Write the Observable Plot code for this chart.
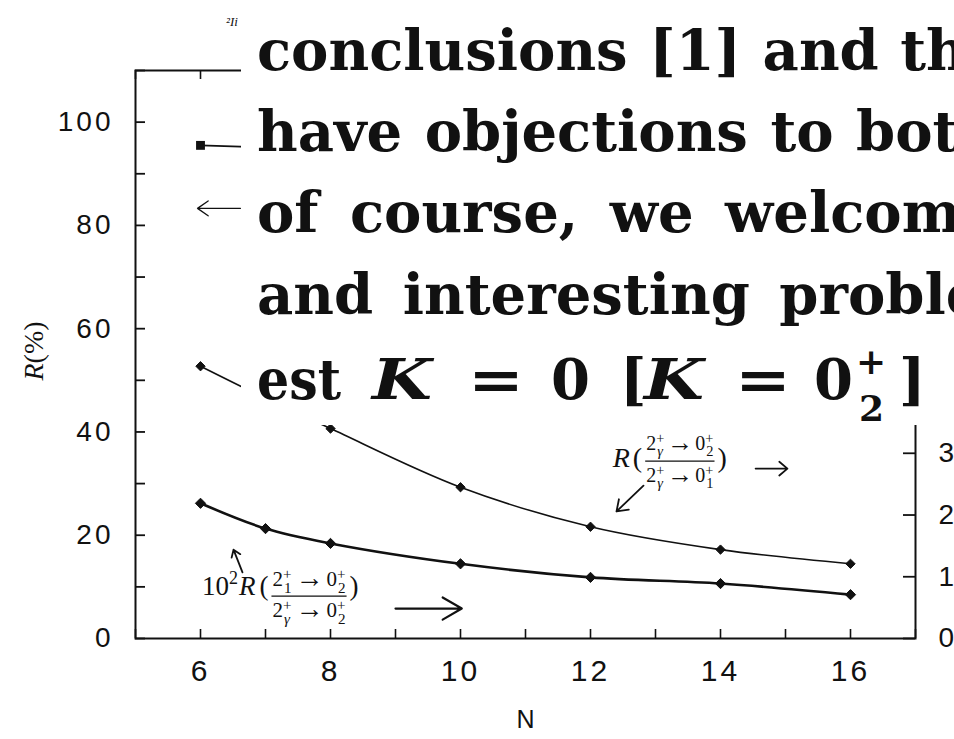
<!DOCTYPE html>
<html><head><meta charset="utf-8">
<script src="https://cdn.jsdelivr.net/npm/d3@7"></script>
<script src="https://cdn.jsdelivr.net/npm/@observablehq/plot@0.6"></script>
<style>
html,body{margin:0;padding:0;background:#fff;overflow:hidden;}
#wrap{position:relative;width:954px;height:739px;overflow:hidden;}
#wrap svg g[aria-label$="tick label"] text{letter-spacing:3px;}
</style></head><body><div id="wrap"></div>
<script>
// ---- data ----
const N = [6, 7, 8, 10, 12, 14, 16];
// right-axis units
const upperR = [4.41, 3.89, 3.40, 2.45, 1.81, 1.44, 1.21];   // R(2γ→0₂ / 2γ→0₁)
const lowerR = [2.19, 1.78, 1.54, 1.21, 0.99, 0.89, 0.71];   // 10² R(2₁→0₂ / 2γ→0₂)
// left-axis units R(%)
const squareN = [6, 7];
const squareR = [95.5, 95.1];
const leftTicks = [0, 20, 40, 60, 80, 100];
const leftMinor = [0, 10, 20, 30, 40, 50, 60, 70, 80, 90, 100, 110];
const rightTicks = [0, 1, 2, 3, 4, 5, 6, 7, 8, 9];
const xTicks = [6, 8, 10, 12, 14, 16];
const xMinor = [5, 6, 7, 8, 9, 10, 11, 12, 13, 14, 15, 16, 17];
const leftMax = 110, rightMax = 9.2;
const k = leftMax / rightMax;

const upper = N.map((n, i) => ({N: n, R: upperR[i]}));
const lower = N.map((n, i) => ({N: n, R: lowerR[i]}));
const squares = squareN.map((n, i) => ({N: n, R: squareR[i]}));

// annotation arrows (data units: N, left-axis R%)
const arrows = [
  {x1: 12.815, y1: 29.6, x2: 12.40, y2: 24.6, hl: 13, ha: 70, sw: 1.8},
  {x1: 14.54, y1: 32.9, x2: 15.03, y2: 32.9, hl: 13, ha: 80, sw: 1.8},
  {x1: 6.646, y1: 12.8, x2: 6.508, y2: 17.2, hl: 12, ha: 70, sw: 1.8},
  {x1: 9.0, y1: 5.8, x2: 10.02, y2: 5.8, hl: 20, ha: 60, sw: 2.2},
  {x1: 6.615, y1: 83.3, x2: 5.954, y2: 83.3, hl: 15, ha: 70, sw: 1.3}
];

const W = 954, H = 739, mL = 135, mR = 39, mT = 70, mB = 101;
const pw = W - mL - mR, ph = H - mT - mB;
const ink = "#111";

const chart = Plot.plot({
  width: W, height: H,
  marginLeft: mL, marginRight: mR, marginTop: mT, marginBottom: mB,
  style: {fontFamily: "Liberation Sans", fontSize: "28px", color: ink, background: "white"},
  x: {domain: [5, 17]},
  y: {domain: [0, leftMax]},
  marks: [
    Plot.axisY(leftTicks, {anchor: "left", tickSize: 0, tickPadding: 22, label: null, fontSize: 28}),
    Plot.axisY(rightTicks.map(t => t * k), {anchor: "right", tickSize: 0, tickPadding: 23, label: null, fontSize: 28,
      tickFormat: d => String(Math.round(d / k))}),
    Plot.axisX(xTicks, {anchor: "bottom", tickSize: 0, tickPadding: 21, label: null, fontSize: 30}),
    Plot.tickY(leftMinor, {y: d => d, insetRight: pw - 10, stroke: ink, strokeWidth: 1.8}),
    Plot.tickY(rightTicks.map(t => t * k), {y: d => d, insetLeft: pw - 12, stroke: ink, strokeWidth: 1.8}),
    Plot.tickX(xMinor, {x: d => d, insetTop: ph - 9, stroke: ink, strokeWidth: 1.6}),
    Plot.tickX(xMinor, {x: d => d, insetBottom: ph - 9, stroke: ink, strokeWidth: 1.6}),
    Plot.frame({stroke: ink, strokeWidth: 2}),
    Plot.line(upper, {x: "N", y: d => d.R * k, stroke: ink, strokeWidth: 1.6, curve: "catmull-rom"}),
    Plot.line(lower, {x: "N", y: d => d.R * k, stroke: ink, strokeWidth: 2.6, curve: "catmull-rom"}),
    Plot.line(squares, {x: "N", y: "R", stroke: ink, strokeWidth: 1.6}),
    Plot.dot(upper, {x: "N", y: d => d.R * k, symbol: "diamond2", r: 4.2, fill: ink, stroke: ink, strokeWidth: 1}),
    Plot.dot(lower, {x: "N", y: d => d.R * k, symbol: "diamond2", r: 4.6, fill: ink, stroke: ink, strokeWidth: 1}),
    Plot.dot(squares, {x: "N", y: "R", symbol: "square", r: 5, fill: ink}),
    ...arrows.map(a => Plot.arrow([a], {x1: "x1", y1: "y1", x2: "x2", y2: "y2", stroke: ink,
      strokeWidth: a.sw, headLength: a.hl, headAngle: a.ha})),
    Plot.text(["N"], {frameAnchor: "bottom", dy: 89, fontSize: 25, fill: ink})
  ]
});
document.getElementById("wrap").appendChild(chart);

const svg = d3.select(chart);
const sx = chart.scale("x"), sy = chart.scale("y");

function piece(g, x, y, str, o) {
  const t = g.append("text").attr("x", x).attr("y", y).text(str)
    .attr("text-anchor", "start")
    .attr("font-family", o.family || "Liberation Serif")
    .attr("font-size", o.size)
    .attr("font-style", o.italic ? "italic" : null)
    .attr("font-weight", o.bold ? "bold" : "normal")
    .attr("fill", ink);
  if (o.ws) t.attr("word-spacing", o.ws);
  if (o.len) t.attr("textLength", o.len).attr("lengthAdjust", "spacingAndGlyphs");
  return o.len || t.node().getComputedTextLength();
}
function row(g, x, y, tokens, size, family) {
  let cx = x;
  for (const tk of tokens) {
    cx += tk.pl || 0;
    if (tk.t != null) cx += piece(g, cx, y + (tk.dy || 0), tk.t, {size: tk.size || size, italic: tk.it, bold: tk.bold, family});
    else {
      const ss = size * 0.72;
      const w1 = tk.sup ? piece(g, cx, y - size * 0.36, tk.sup, {size: ss, family}) : 0;
      const w2 = tk.sub ? piece(g, cx + 1, y + size * 0.32, tk.sub, {size: ss, family, italic: tk.subIt}) + 1 : 0;
      cx += Math.max(w1, w2);
    }
    cx += tk.pr || 0;
  }
  return cx - x;
}
function fraction(g, x, yBar, num, den, size, dn, dd) {
  const gn = g.append("g"); const wn = row(gn, 0, 0, num, size);
  const gd = g.append("g"); const wd = row(gd, 0, 0, den, size);
  const w = Math.max(wn, wd) + 2;
  gn.attr("transform", `translate(${x + (w - wn) / 2},${yBar - dn})`);
  gd.attr("transform", `translate(${x + (w - wd) / 2},${yBar + dd})`);
  g.append("line").attr("x1", x).attr("x2", x + w).attr("y1", yBar).attr("y2", yBar)
    .attr("stroke", ink).attr("stroke-width", 1.3);
  return w;
}
const arrowTok = {t: "→", size: 26, dy: 1, pl: 3, pr: 2};
const arrowTokB = {t: "→", size: 28, dy: 1, pl: 4, pr: 3};

const ann = svg.append("g");
// annotation A: R(2γ+→02+ / 2γ+→01+)
{
  const x0 = sx.apply(12.35), yb = sy.apply(33.1);
  let cx = x0;
  cx += piece(ann, cx, yb, "R", {size: 28, italic: true}) + 3;
  cx += piece(ann, cx, yb, "(", {size: 28}) + 3;
  cx += fraction(ann, cx, yb - 6,
    [{t: "2"}, {sup: "+", sub: "γ", subIt: true}, arrowTok, {t: "0"}, {sup: "+", sub: "2"}],
    [{t: "2"}, {sup: "+", sub: "γ", subIt: true}, arrowTok, {t: "0"}, {sup: "+", sub: "1"}], 20, 11, 21) + 3;
  piece(ann, cx, yb, ")", {size: 28});
}
// annotation B: 10²R(2₁+→0₂+ / 2γ+→0₂+)
{
  const x0 = sx.apply(6.03), yb = sy.apply(8.3);
  let cx = x0;
  cx += piece(ann, cx, yb, "10", {size: 27});
  cx += piece(ann, cx, yb - 11, "2", {size: 18}) + 1;
  cx += piece(ann, cx, yb, "R", {size: 27, italic: true}) + 4;
  cx += piece(ann, cx, yb, "(", {size: 27}) + 3;
  cx += fraction(ann, cx, yb + 1,
    [{t: "2"}, {sup: "+", sub: "1"}, arrowTokB, {t: "0"}, {sup: "+", sub: "2"}],
    [{t: "2"}, {sup: "+", sub: "γ", subIt: true}, arrowTokB, {t: "0"}, {sup: "+", sub: "2"}], 21, 10, 21) + 3;
  piece(ann, cx, yb, ")", {size: 27});
}
// y-axis title R(%)
{
  const t = svg.append("text").attr("transform", "translate(43,351) rotate(-90)")
    .attr("text-anchor", "middle").attr("font-family", "Liberation Serif").attr("font-size", 28).attr("fill", ink);
  t.append("tspan").attr("font-style", "italic").text("R");
  t.append("tspan").text("(%)");
}
// tiny fragment at top
piece(svg, 226, 26, "²Ii", {size: 13, italic: true});

// overlaid page text (pasted over the figure)
const ov = svg.append("g");
ov.append("rect").attr("x", 241).attr("y", 20).attr("width", W - 241).attr("height", 405).attr("fill", "white");
const lines = [
  {t: "conclusions [1] and th", y: 70, ws: 2},
  {t: "have objections to bot", y: 151, ws: 3},
  {t: "of course, we welcom", y: 232, ws: 12},
  {t: "and interesting proble", y: 314, ws: 10}
];
const OF = "DejaVu Serif", OS = 56;
for (const l of lines) piece(ov, 257, l.y, l.t, {size: OS, bold: true, family: OF, ws: l.ws});
{
  const yb = 399;
  const p = (x, s, o = {}) => piece(ov, x, yb + (o.dy || 0), s, {size: o.size || OS, bold: true, italic: o.it, family: OF, len: o.len});
  p(257, "est", {len: 84});
  p(372, "K", {it: true, len: 60});
  p(468, "=", {len: 56});
  p(551, "0");
  p(620, "[");
  p(644, "K", {it: true, len: 60});
  p(735, "=", {len: 56});
  p(814, "0");
  p(856, "+", {size: 36, dy: -25});
  p(859, "2", {size: 36, dy: 22});
  p(899, "]");
}
</script></body></html>
